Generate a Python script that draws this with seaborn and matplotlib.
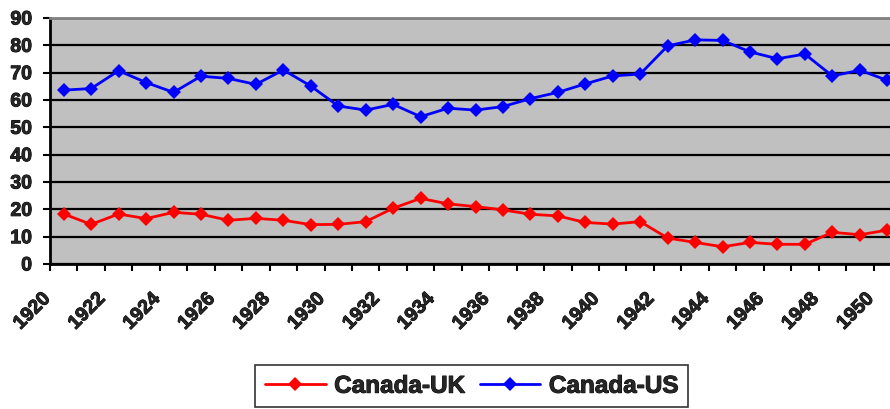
import numpy as np
import pandas as pd
import seaborn as sns
import matplotlib.pyplot as plt
import matplotlib.transforms as mtrans
import matplotlib.patheffects as pe
from matplotlib import font_manager as fm

# Dados
anos = list(range(1920, 1951))
canada_uk = [18.3, 14.5, 18.3, 16.6, 18.9, 18.2, 16.0, 16.7, 16.0, 14.4,
             14.5, 15.5, 20.4, 24.0, 22.0, 21.0, 19.8, 18.2, 17.6, 15.2,
             14.6, 15.5, 9.5, 7.9, 6.3, 7.9, 7.2, 7.2, 11.6, 10.7, 12.4]
canada_us = [63.6, 64.2, 70.7, 66.4, 62.8, 68.7, 67.9, 65.7, 71.0, 65.1,
             57.8, 56.3, 58.4, 53.9, 57.0, 56.3, 57.6, 60.5, 62.8, 65.9,
             68.8, 69.5, 79.8, 82.0, 81.8, 77.6, 75.1, 76.8, 68.8, 70.9, 67.2]
series = ['Canada-UK', 'Canada-US']
cores = ['#FF0000', '#0000FF']
y_ticks = list(range(0, 91, 10))
x_labels = anos[::2]

df = pd.DataFrame({'Ano': anos, 'Canada-UK': canada_uk, 'Canada-US': canada_us})

# escolher uma fonte que tenha versão em negrito
fonte = 'DejaVu Sans'
for nome in ['Liberation Sans', 'Arimo', 'Roboto', 'Noto Sans', 'Open Sans']:
    if any(f.name == nome and f.weight in (700, 'bold') for f in fm.fontManager.ttflist):
        fonte = nome
        break

sns.set_style('white')
plt.rcParams['font.family'] = [fonte, 'DejaVu Sans']
plt.rcParams['font.weight'] = 'bold'

# traço extra para deixar o texto mais "pesado", como no Excel
grosso = [pe.withStroke(linewidth=0.7, foreground='black')]

fig = plt.figure(figsize=(8.9, 4.09), dpi=100)
ax = fig.add_axes([50 / 890, 1 - 264 / 409, 851 / 890, 246 / 409])
ax.set_facecolor('#C0C0C0')

for nome, cor in zip(series, cores):
    sns.lineplot(data=df, x='Ano', y=nome, ax=ax, color=cor, linewidth=2,
                 marker='D', markersize=7.5, markeredgewidth=0, label=nome)

ax.set_xlim(anos[0] - 0.5, anos[-1] + 0.5)
ax.set_ylim(0, 90)
ax.set_yticks(y_ticks)
ax.yaxis.grid(True, color='black', linewidth=1.6)
ax.xaxis.grid(False)
ax.set_axisbelow(True)
ax.set_xlabel('')
ax.set_ylabel('')

# marcas entre categorias, rótulos no centro (estilo Excel)
ax.set_xticks(np.arange(anos[0] - 0.5, anos[-1] + 1, 1))
ax.set_xticklabels([])
ax.set_xticks(x_labels, minor=True)
ax.set_xticklabels([str(a) for a in x_labels], minor=True, rotation=45,
                   ha='right', fontsize=14, fontweight='bold')
ax.tick_params(axis='x', which='major', direction='out', length=5, width=1.5,
               color='black', bottom=True)
ax.tick_params(axis='x', which='minor', length=0, pad=19, bottom=True)
ax.tick_params(axis='y', direction='out', length=5, width=1.5, color='black',
               left=True, labelsize=14, pad=8)
for lab in ax.get_yticklabels():
    lab.set_fontweight('bold')
    lab.set_path_effects(grosso)
offset = mtrans.ScaledTranslation(-10 / 100, 0, fig.dpi_scale_trans)
for lab in ax.xaxis.get_minorticklabels():
    lab.set_transform(lab.get_transform() + offset)
    lab.set_path_effects(grosso)

ax.spines['left'].set_color('black')
ax.spines['left'].set_linewidth(2)
ax.spines['bottom'].set_color('black')
ax.spines['bottom'].set_linewidth(2)
ax.spines['top'].set_color('#808080')
ax.spines['top'].set_linewidth(2)
ax.spines['right'].set_visible(False)

handles, labels = ax.get_legend_handles_labels()
ax.legend_.remove()
leg = fig.legend(handles, labels, loc='upper center', bbox_to_anchor=(0.53, 1 - 365 / 409),
                 ncol=2, frameon=True, fancybox=False, edgecolor='black',
                 prop={'weight': 'bold', 'size': 17.5}, handlelength=2.5,
                 handletextpad=0.35, columnspacing=0.6, borderpad=0.4,
                 borderaxespad=0)
leg.get_frame().set_linewidth(1.2)
for t in leg.get_texts():
    t.set_path_effects(grosso)

fig.savefig('out.png', dpi=100)
